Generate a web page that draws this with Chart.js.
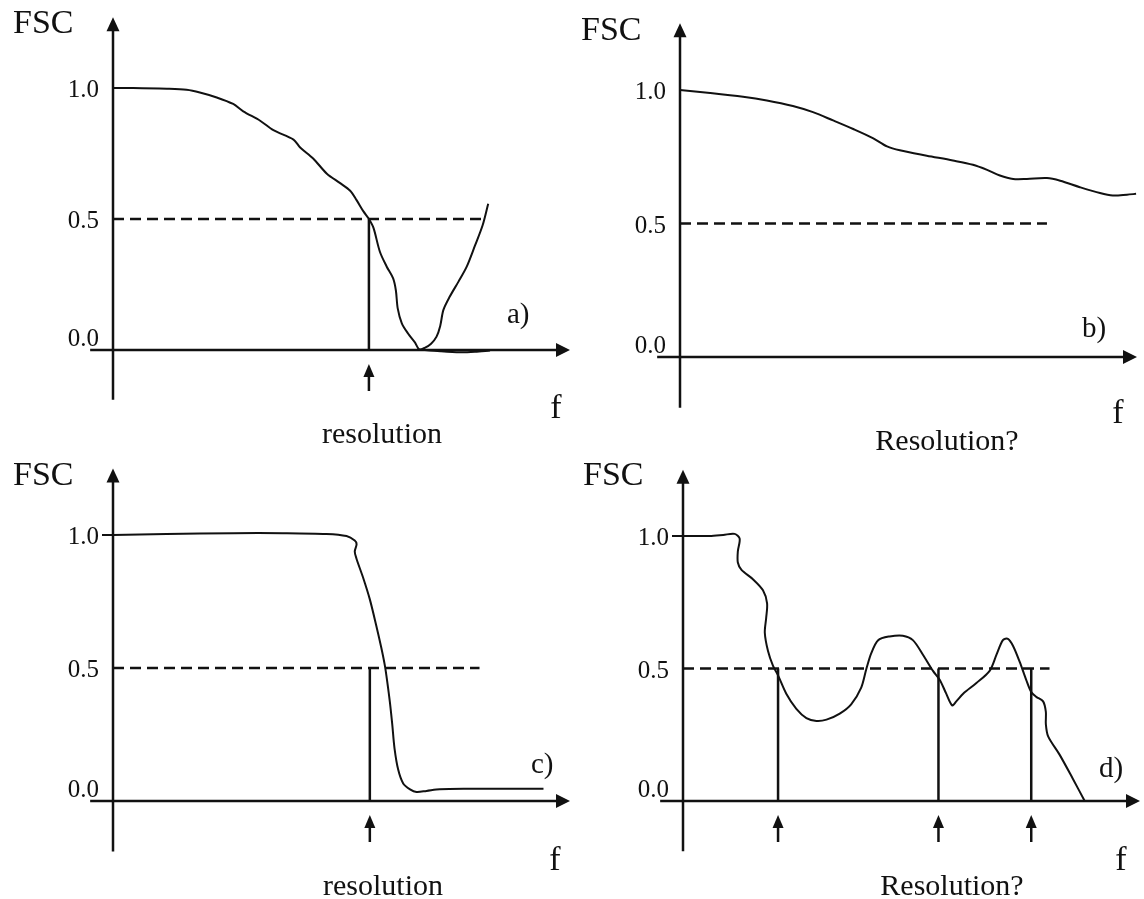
<!DOCTYPE html>
<html>
<head>
<meta charset="utf-8">
<title>FSC resolution criteria</title>
<script src="https://cdn.jsdelivr.net/npm/chart.js@4.4.1/dist/chart.umd.min.js"></script>
<style>
  html, body { margin: 0; padding: 0; background: #ffffff; }
  #page { position: relative; width: 1144px; height: 899px; overflow: hidden; background: #ffffff; }
  canvas { position: absolute; }
</style>
</head>
<body>
<div id="page">
  <canvas id="panelA" width="572" height="450" style="left:0px;top:0px"></canvas>
  <canvas id="panelB" width="572" height="450" style="left:572px;top:0px"></canvas>
  <canvas id="panelC" width="572" height="449" style="left:0px;top:450px"></canvas>
  <canvas id="panelD" width="572" height="449" style="left:572px;top:450px"></canvas>
</div>
<script>
// ---- data: spatial frequency f (normalised to the axis length) and FSC value ----

// a) well-behaved FSC that drops through 0.5 and then swings back up
const fscA_f = [0.000, 0.044, 0.118, 0.161, 0.190, 0.227, 0.263, 0.285, 0.322, 0.351,
                0.395, 0.409, 0.438, 0.468, 0.497, 0.519, 0.533, 0.548, 0.560, 0.570,
                0.584, 0.599, 0.613, 0.619, 0.623, 0.632, 0.646, 0.661, 0.670, 0.683,
                0.696, 0.708, 0.716, 0.723, 0.737, 0.756, 0.774, 0.792, 0.809, 0.821];
const fscA_v = [1.000, 1.000, 0.997, 0.993, 0.983, 0.964, 0.939, 0.911, 0.875, 0.839,
                0.803, 0.774, 0.731, 0.673, 0.637, 0.608, 0.572, 0.529, 0.500, 0.466,
                0.375, 0.318, 0.273, 0.227, 0.159, 0.102, 0.062, 0.028, 0.002, 0.009,
                0.024, 0.051, 0.092, 0.153, 0.204, 0.261, 0.318, 0.398, 0.477, 0.558];
// a) the branch that stays near zero after the first drop
const tailA_f = [0.667, 0.716, 0.759, 0.792, 0.825];
const tailA_v = [0.002, -0.005, -0.009, -0.007, -0.002];

// b) FSC that never reaches the 0.5 threshold
const fscB_f = [0.000, 0.066, 0.138, 0.190, 0.247, 0.291, 0.335, 0.379, 0.422, 0.453,
                0.481, 0.540, 0.597, 0.641, 0.672, 0.700, 0.729, 0.759, 0.803, 0.832,
                0.875, 0.919, 0.947, 0.978, 0.998];
const fscB_v = [1.000, 0.989, 0.975, 0.961, 0.940, 0.917, 0.886, 0.854, 0.820, 0.789,
                0.774, 0.754, 0.736, 0.720, 0.701, 0.680, 0.667, 0.667, 0.670, 0.660,
                0.636, 0.614, 0.605, 0.608, 0.611];

// c) step-like FSC with a sharp cut-off
const fscC_f = [0.000, 0.117, 0.263, 0.372, 0.467, 0.511, 0.529, 0.533, 0.529, 0.533,
                0.547, 0.562, 0.576, 0.587, 0.595, 0.600, 0.606, 0.611, 0.616, 0.624,
                0.635, 0.650, 0.664, 0.686, 0.715, 0.774, 0.847, 0.942];
const fscC_v = [1.000, 1.004, 1.007, 1.007, 1.004, 0.996, 0.979, 0.965, 0.938, 0.910,
                0.841, 0.758, 0.660, 0.577, 0.508, 0.450, 0.370, 0.289, 0.198, 0.118,
                0.066, 0.044, 0.034, 0.038, 0.044, 0.046, 0.046, 0.046];

// d) oscillating FSC that crosses 0.5 several times
const fscD_f = [0.000, 0.058, 0.088, 0.113, 0.124, 0.120, 0.120, 0.128, 0.153, 0.175,
                0.184, 0.182, 0.179, 0.186, 0.197, 0.208, 0.226, 0.248, 0.270, 0.292,
                0.314, 0.343, 0.368, 0.390, 0.401, 0.412, 0.427, 0.452, 0.481, 0.503,
                0.525, 0.547, 0.562, 0.576, 0.589, 0.598, 0.613, 0.642, 0.671, 0.686,
                0.700, 0.711, 0.722, 0.737, 0.751, 0.762, 0.773, 0.788, 0.794, 0.794,
                0.799, 0.824, 0.853, 0.879];
const fscD_v = [1.000, 1.000, 1.004, 1.008, 0.990, 0.942, 0.900, 0.872, 0.837, 0.795,
                0.746, 0.691, 0.635, 0.566, 0.510, 0.474, 0.405, 0.348, 0.313, 0.302,
                0.307, 0.330, 0.365, 0.428, 0.497, 0.558, 0.607, 0.621, 0.624, 0.607,
                0.552, 0.491, 0.457, 0.405, 0.361, 0.376, 0.405, 0.445, 0.491, 0.552,
                0.607, 0.612, 0.586, 0.524, 0.457, 0.411, 0.393, 0.376, 0.336, 0.290,
                0.244, 0.175, 0.084, 0.000];

// 0.5 threshold and the extent of its dashed guide in each panel
const thresholdLevel = 0.5;
const thresholdEnd = [0.810, 0.803, 0.802, 0.802];

// frequencies marked as "resolution" in each panel
const resolutionA = [0.560];
const resolutionB = [];
const resolutionC = [0.562];
const resolutionD = [0.208, 0.559, 0.762];

// axis ticks and texts
const tickValues = [0.0, 0.5, 1.0];
const tickLabels = ['0.0', '0.5', '1.0'];
const axisTitleY = 'FSC';
const axisTitleX = 'f';
const panelTags = ['a)', 'b)', 'c)', 'd)'];
const panelCaptions = ['resolution', 'Resolution?', 'resolution', 'Resolution?'];

// ---- drawing ----
const INK = '#111111';
const SERIF = '"Liberation Serif", "Times New Roman", Times, serif';
const X_MIN = -0.05, X_MAX = 1.0, Y_MIN = -0.19;

const toPoints = (fs, vs) => fs.map((f, i) => ({ x: f, y: vs[i] }));

// Axes with arrowheads, tick labels, resolution markers and the panel texts
const fscDiagram = {
  id: 'fscDiagram',
  beforeDatasetsDraw(chart, args, o) {
    const { ctx, chartArea: a } = chart;
    const xs = chart.scales.x, ys = chart.scales.y;
    const x0 = xs.getPixelForValue(0), y0 = ys.getPixelForValue(0);
    ctx.save();
    ctx.strokeStyle = INK;
    ctx.fillStyle = INK;
    ctx.lineWidth = 2.5;
    ctx.lineCap = 'butt';

    // vertical FSC axis
    ctx.beginPath(); ctx.moveTo(x0, a.bottom); ctx.lineTo(x0, a.top + 10); ctx.stroke();
    ctx.beginPath(); ctx.moveTo(x0, a.top); ctx.lineTo(x0 - 6.5, a.top + 14); ctx.lineTo(x0 + 6.5, a.top + 14);
    ctx.closePath(); ctx.fill();

    // horizontal frequency axis
    ctx.beginPath(); ctx.moveTo(a.left, y0); ctx.lineTo(a.right - 10, y0); ctx.stroke();
    ctx.beginPath(); ctx.moveTo(a.right, y0); ctx.lineTo(a.right - 14, y0 - 7); ctx.lineTo(a.right - 14, y0 + 7);
    ctx.closePath(); ctx.fill();

    // tick labels (0.0 sits just above the frequency axis)
    ctx.font = '25px ' + SERIF;
    ctx.textAlign = 'right';
    ctx.textBaseline = 'alphabetic';
    tickValues.forEach((v, i) => {
      const py = ys.getPixelForValue(v);
      ctx.fillText(tickLabels[i], x0 - 14, v === 0 ? py - 4 : py + 9);
    });
    if (o.tickMark) {
      const py = ys.getPixelForValue(1.0);
      ctx.lineWidth = 2;
      ctx.beginPath(); ctx.moveTo(x0 - 11, py); ctx.lineTo(x0, py); ctx.stroke();
    }

    // small upward arrows under the axis at each resolution frequency
    o.marks.forEach(f => {
      const px = xs.getPixelForValue(f);
      ctx.lineWidth = 2.5;
      ctx.beginPath(); ctx.moveTo(px, y0 + 41); ctx.lineTo(px, y0 + 24); ctx.stroke();
      ctx.beginPath(); ctx.moveTo(px, y0 + 14); ctx.lineTo(px - 5.5, y0 + 27); ctx.lineTo(px + 5.5, y0 + 27);
      ctx.closePath(); ctx.fill();
    });

    // texts, given in page coordinates
    const t = o.text;
    const lx = p => p[0] - o.ox, ly = p => p[1] - o.oy;
    ctx.textAlign = 'left';
    ctx.font = '34px ' + SERIF;
    ctx.fillText(axisTitleY, lx(t.fsc), ly(t.fsc));
    ctx.textAlign = 'center';
    ctx.fillText(axisTitleX, lx(t.f), ly(t.f));
    ctx.font = '29px ' + SERIF;
    ctx.textAlign = 'left';
    ctx.fillText(panelTags[o.index], lx(t.tag), ly(t.tag));
    ctx.font = '30px ' + SERIF;
    ctx.textAlign = 'center';
    ctx.fillText(panelCaptions[o.index], lx(t.caption), ly(t.caption));
    ctx.restore();
  }
};

// page placement of each panel: origin of the axes, height of FSC = 1, tip of the f axis
const panels = [
  { id: 'panelA', ox: 0,   oy: 0,   w: 572, h: 450, axisX: 113, axisY: 350, oneY: 88,  tipX: 570,  yMax: 1.27, tickMark: false,
    curve: [toPoints(fscA_f, fscA_v), toPoints(tailA_f, tailA_v)], marks: resolutionA,
    text: { fsc: [13, 33], tag: [507, 323], f: [556, 418], caption: [382, 443] } },
  { id: 'panelB', ox: 572, oy: 0,   w: 572, h: 450, axisX: 680, axisY: 357, oneY: 90,  tipX: 1137, yMax: 1.25, tickMark: false,
    curve: [toPoints(fscB_f, fscB_v)], marks: resolutionB,
    text: { fsc: [581, 40], tag: [1082, 337], f: [1118, 423], caption: [947, 450] } },
  { id: 'panelC', ox: 0,   oy: 450, w: 572, h: 449, axisX: 113, axisY: 801, oneY: 535, tipX: 570,  yMax: 1.25, tickMark: true,
    curve: [toPoints(fscC_f, fscC_v)], marks: resolutionC,
    text: { fsc: [13, 485], tag: [531, 773], f: [555, 870], caption: [383, 895] } },
  { id: 'panelD', ox: 572, oy: 450, w: 572, h: 449, axisX: 683, axisY: 801, oneY: 536, tipX: 1140, yMax: 1.25, tickMark: true,
    curve: [toPoints(fscD_f, fscD_v)], marks: resolutionD,
    text: { fsc: [583, 485], tag: [1099, 777], f: [1121, 870], caption: [952, 895] } }
];

panels.forEach((p, i) => {
  const unitX = p.tipX - p.axisX;
  const unitY = p.axisY - p.oneY;
  const padding = {
    left: p.axisX + X_MIN * unitX - p.ox,
    right: p.ox + p.w - p.tipX,
    top: p.axisY - p.yMax * unitY - p.oy,
    bottom: p.oy + p.h - (p.axisY - Y_MIN * unitY)
  };

  const datasets = [];
  p.curve.forEach(pts => datasets.push({
    data: pts, borderColor: INK, borderWidth: 2, tension: 0.3,
    pointRadius: 0, fill: false
  }));
  datasets.push({
    data: [{ x: 0, y: thresholdLevel }, { x: thresholdEnd[i], y: thresholdLevel }],
    borderColor: INK, borderWidth: 2.5, borderDash: [11, 6], pointRadius: 0, tension: 0, fill: false
  });
  p.marks.forEach(f => datasets.push({
    data: [{ x: f, y: 0 }, { x: f, y: thresholdLevel }],
    borderColor: INK, borderWidth: 2.5, pointRadius: 0, tension: 0, fill: false
  }));

  new Chart(document.getElementById(p.id), {
    type: 'scatter',
    data: { datasets },
    options: {
      responsive: false,
      animation: false,
      devicePixelRatio: 1,
      events: [],
      showLine: true,
      layout: { padding },
      scales: {
        x: { type: 'linear', min: X_MIN, max: X_MAX, display: false },
        y: { type: 'linear', min: Y_MIN, max: p.yMax, display: false }
      },
      plugins: {
        legend: { display: false },
        tooltip: { enabled: false },
        fscDiagram: { index: i, ox: p.ox, oy: p.oy, marks: p.marks, tickMark: p.tickMark, text: p.text }
      }
    },
    plugins: [fscDiagram]
  });
});
</script>
</body>
</html>
